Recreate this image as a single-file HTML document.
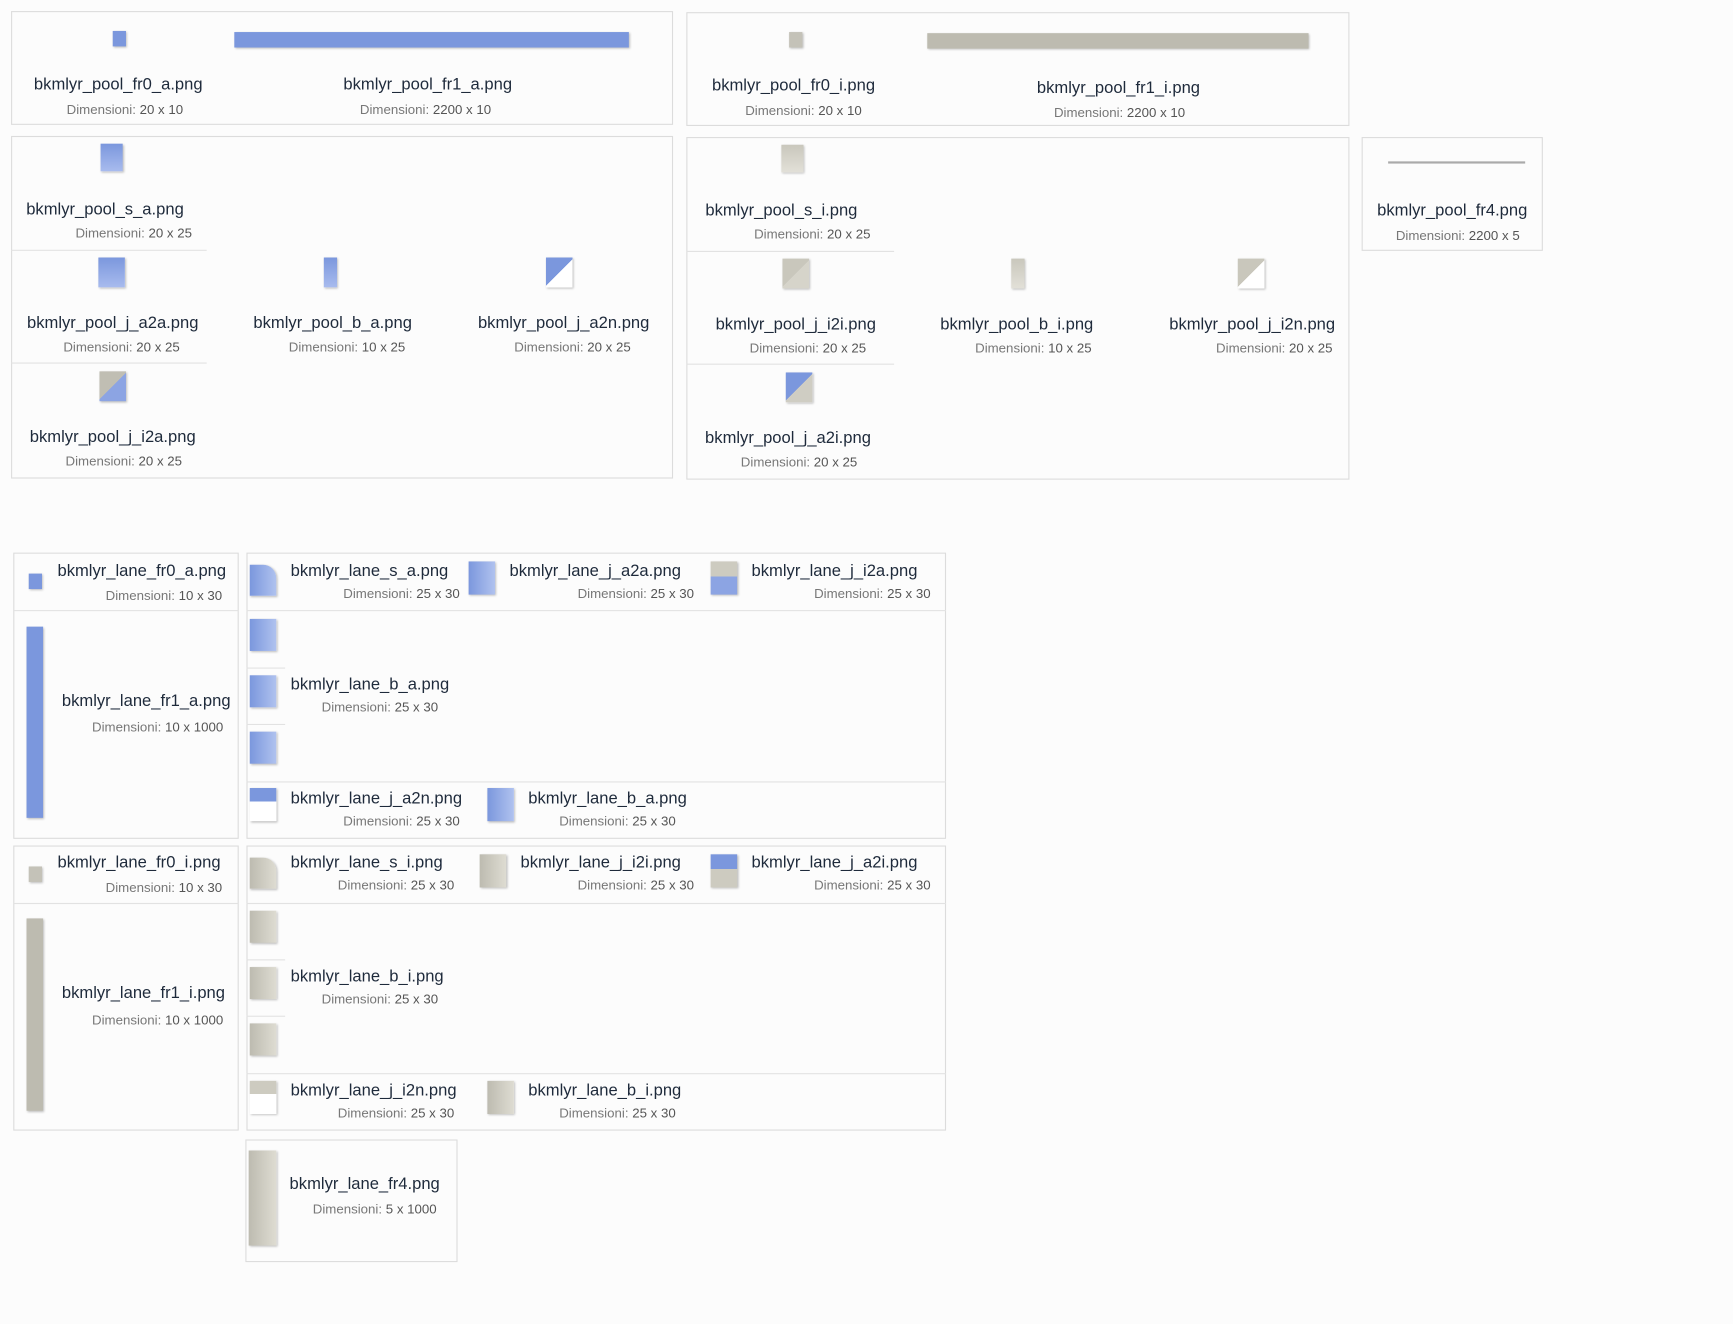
<!DOCTYPE html>
<html><head><meta charset="utf-8"><style>
html,body{margin:0;padding:0;background:#fcfcfc;}
body{width:1733px;height:1324px;overflow:hidden;position:relative;}
#w{position:absolute;left:0;top:0;width:1568px;height:1198px;transform:scale(1.1052);transform-origin:0 0;font-family:"Liberation Sans",sans-serif;}
.b{position:absolute;border:1px solid #dcdcdc;box-sizing:border-box;}
.h{position:absolute;height:1px;background:#e2e2e2;}
.n{position:absolute;font-size:15px;color:#1e2a3b;white-space:nowrap;line-height:18px;}
.d{position:absolute;font-size:12px;color:#555;white-space:nowrap;line-height:14px;}
.d span{color:#777;}
.c{transform:translateX(-50%);}
.r{transform:translateX(-100%);}
.i{position:absolute;box-shadow:1px 1px 2px rgba(0,0,0,.25);}
.bl{background:linear-gradient(90deg,#7b97dd,#b0c2ef);}
.bv{background:linear-gradient(180deg,#7b97dd,#a8bbee);}
.gr{background:linear-gradient(90deg,#bdbbb0,#dedcd2);}
.gv{background:linear-gradient(180deg,#c9c7bc,#e2e0d8);}
</style></head><body><div id="w">

<!-- Box A -->
<div class="b" style="left:10px;top:10px;width:599px;height:103px"></div>
<div class="i" style="left:102px;top:28px;width:12px;height:14px;background:#7b97dd"></div>
<div class="i" style="left:212px;top:29px;width:357px;height:14px;background:#7b97dd"></div>
<div class="n c" style="left:107px;top:68px">bkmlyr_pool_fr0_a.png</div>
<div class="d c" style="left:113px;top:92px"><span>Dimensioni:</span> 20 x 10</div>
<div class="n c" style="left:387px;top:68px">bkmlyr_pool_fr1_a.png</div>
<div class="d c" style="left:385px;top:92px"><span>Dimensioni:</span> 2200 x 10</div>

<!-- Box B -->
<div class="b" style="left:621px;top:11px;width:600px;height:103px"></div>
<div class="i" style="left:714px;top:29px;width:12px;height:14px;background:#c4c2b8"></div>
<div class="i" style="left:839px;top:30px;width:345px;height:14px;background:#bdbbb0"></div>
<div class="n c" style="left:718px;top:69px">bkmlyr_pool_fr0_i.png</div>
<div class="d c" style="left:727px;top:93px"><span>Dimensioni:</span> 20 x 10</div>
<div class="n c" style="left:1012px;top:71px">bkmlyr_pool_fr1_i.png</div>
<div class="d c" style="left:1013px;top:95px"><span>Dimensioni:</span> 2200 x 10</div>

<!-- Box C -->
<div class="b" style="left:10px;top:123px;width:599px;height:310px"></div>
<div class="h" style="left:10px;top:226px;width:177px"></div>
<div class="h" style="left:10px;top:328px;width:177px"></div>
<div class="i bv" style="left:91px;top:130px;width:20px;height:25px"></div>
<div class="n c" style="left:95px;top:181px">bkmlyr_pool_s_a.png</div>
<div class="d c" style="left:121px;top:204px"><span>Dimensioni:</span> 20 x 25</div>
<div class="i bv" style="left:89px;top:233px;width:24px;height:27px"></div>
<div class="n c" style="left:102px;top:284px">bkmlyr_pool_j_a2a.png</div>
<div class="d c" style="left:110px;top:307px"><span>Dimensioni:</span> 20 x 25</div>
<div class="i bv" style="left:293px;top:233px;width:12px;height:27px"></div>
<div class="n c" style="left:301px;top:284px">bkmlyr_pool_b_a.png</div>
<div class="d c" style="left:314px;top:307px"><span>Dimensioni:</span> 10 x 25</div>
<div class="i" style="left:494px;top:233px;width:24px;height:27px;background:linear-gradient(135deg,#7b97dd 50%,#fff 50%)"></div>
<div class="n c" style="left:510px;top:284px">bkmlyr_pool_j_a2n.png</div>
<div class="d c" style="left:518px;top:307px"><span>Dimensioni:</span> 20 x 25</div>
<div class="i" style="left:90px;top:336px;width:24px;height:27px;background:linear-gradient(135deg,#c0beb3 50%,#8ca4e3 50%)"></div>
<div class="n c" style="left:102px;top:387px">bkmlyr_pool_j_i2a.png</div>
<div class="d c" style="left:112px;top:410px"><span>Dimensioni:</span> 20 x 25</div>

<!-- Box D -->
<div class="b" style="left:621px;top:124px;width:600px;height:310px"></div>
<div class="h" style="left:621px;top:227px;width:188px"></div>
<div class="h" style="left:621px;top:329px;width:188px"></div>
<div class="i gv" style="left:707px;top:131px;width:20px;height:25px"></div>
<div class="n c" style="left:707px;top:182px">bkmlyr_pool_s_i.png</div>
<div class="d c" style="left:735px;top:205px"><span>Dimensioni:</span> 20 x 25</div>
<div class="i" style="left:708px;top:234px;width:24px;height:27px;background:linear-gradient(135deg,#c9c7bc 50%,#d6d4ca 50%)"></div>
<div class="n c" style="left:720px;top:285px">bkmlyr_pool_j_i2i.png</div>
<div class="d c" style="left:731px;top:308px"><span>Dimensioni:</span> 20 x 25</div>
<div class="i gv" style="left:915px;top:234px;width:12px;height:27px"></div>
<div class="n c" style="left:920px;top:285px">bkmlyr_pool_b_i.png</div>
<div class="d c" style="left:935px;top:308px"><span>Dimensioni:</span> 10 x 25</div>
<div class="i" style="left:1120px;top:234px;width:24px;height:27px;background:linear-gradient(135deg,#c9c7bc 50%,#fff 50%)"></div>
<div class="n c" style="left:1133px;top:285px">bkmlyr_pool_j_i2n.png</div>
<div class="d c" style="left:1153px;top:308px"><span>Dimensioni:</span> 20 x 25</div>
<div class="i" style="left:711px;top:337px;width:24px;height:27px;background:linear-gradient(135deg,#7b97dd 50%,#cfcdc3 50%)"></div>
<div class="n c" style="left:713px;top:388px">bkmlyr_pool_j_a2i.png</div>
<div class="d c" style="left:723px;top:411px"><span>Dimensioni:</span> 20 x 25</div>

<!-- Box E -->
<div class="b" style="left:1232px;top:124px;width:164px;height:103px"></div>
<div style="position:absolute;left:1256px;top:146px;width:124px;height:2px;background:#aaa"></div>
<div class="n c" style="left:1314px;top:182px">bkmlyr_pool_fr4.png</div>
<div class="d c" style="left:1319px;top:206px"><span>Dimensioni:</span> 2200 x 5</div>

<!-- Box F -->
<div class="b" style="left:12px;top:500px;width:204px;height:259px"></div>
<div class="h" style="left:12px;top:552px;width:204px"></div>
<div class="i" style="left:26px;top:519px;width:12px;height:14px;background:#7b97dd"></div>
<div class="n" style="left:52px;top:508px">bkmlyr_lane_fr0_a.png</div>
<div class="d r" style="left:201px;top:532px"><span>Dimensioni:</span> 10 x 30</div>
<div class="i" style="left:24px;top:567px;width:15px;height:173px;background:#7b97dd"></div>
<div class="n" style="left:56px;top:626px">bkmlyr_lane_fr1_a.png</div>
<div class="d r" style="left:202px;top:651px"><span>Dimensioni:</span> 10 x 1000</div>

<!-- Box G -->
<div class="b" style="left:223px;top:500px;width:633px;height:259px"></div>
<div class="h" style="left:223px;top:552px;width:633px"></div>
<div class="h" style="left:223px;top:707px;width:633px"></div>
<div class="h" style="left:223px;top:604px;width:35px"></div>
<div class="h" style="left:223px;top:655px;width:35px"></div>
<div class="i bl" style="left:226px;top:511px;width:24px;height:28px;border-top-right-radius:12px"></div>
<div class="n" style="left:263px;top:508px">bkmlyr_lane_s_a.png</div>
<div class="d r" style="left:416px;top:530px"><span>Dimensioni:</span> 25 x 30</div>
<div class="i bl" style="left:424px;top:508px;width:24px;height:30px"></div>
<div class="n" style="left:461px;top:508px">bkmlyr_lane_j_a2a.png</div>
<div class="d r" style="left:628px;top:530px"><span>Dimensioni:</span> 25 x 30</div>
<div class="i" style="left:643px;top:508px;width:24px;height:30px;background:linear-gradient(180deg,#cdcbc0 45%,#8ca4e3 45%)"></div>
<div class="n" style="left:680px;top:508px">bkmlyr_lane_j_i2a.png</div>
<div class="d r" style="left:842px;top:530px"><span>Dimensioni:</span> 25 x 30</div>
<div class="i bl" style="left:226px;top:560px;width:24px;height:29px"></div>
<div class="i bl" style="left:226px;top:611px;width:24px;height:29px"></div>
<div class="i bl" style="left:226px;top:662px;width:24px;height:29px"></div>
<div class="n" style="left:263px;top:611px">bkmlyr_lane_b_a.png</div>
<div class="d" style="left:291px;top:633px"><span>Dimensioni:</span> 25 x 30</div>
<div class="i" style="left:226px;top:713px;width:24px;height:30px;background:linear-gradient(180deg,#7b97dd 40%,#fff 40%)"></div>
<div class="n" style="left:263px;top:714px">bkmlyr_lane_j_a2n.png</div>
<div class="d r" style="left:416px;top:736px"><span>Dimensioni:</span> 25 x 30</div>
<div class="i bl" style="left:441px;top:713px;width:24px;height:30px"></div>
<div class="n" style="left:478px;top:714px">bkmlyr_lane_b_a.png</div>
<div class="d" style="left:506px;top:736px"><span>Dimensioni:</span> 25 x 30</div>

<!-- Box H -->
<div class="b" style="left:12px;top:765px;width:204px;height:258px"></div>
<div class="h" style="left:12px;top:817px;width:204px"></div>
<div class="i" style="left:26px;top:784px;width:12px;height:14px;background:#c4c2b8"></div>
<div class="n" style="left:52px;top:772px">bkmlyr_lane_fr0_i.png</div>
<div class="d r" style="left:201px;top:796px"><span>Dimensioni:</span> 10 x 30</div>
<div class="i" style="left:24px;top:831px;width:15px;height:174px;background:#bdbbb0"></div>
<div class="n" style="left:56px;top:890px">bkmlyr_lane_fr1_i.png</div>
<div class="d r" style="left:202px;top:916px"><span>Dimensioni:</span> 10 x 1000</div>

<!-- Box I -->
<div class="b" style="left:223px;top:765px;width:633px;height:258px"></div>
<div class="h" style="left:223px;top:817px;width:633px"></div>
<div class="h" style="left:223px;top:971px;width:633px"></div>
<div class="h" style="left:223px;top:868px;width:35px"></div>
<div class="h" style="left:223px;top:919px;width:35px"></div>
<div class="i gr" style="left:226px;top:776px;width:24px;height:28px;border-top-right-radius:12px"></div>
<div class="n" style="left:263px;top:772px">bkmlyr_lane_s_i.png</div>
<div class="d r" style="left:411px;top:794px"><span>Dimensioni:</span> 25 x 30</div>
<div class="i gr" style="left:434px;top:773px;width:24px;height:30px"></div>
<div class="n" style="left:471px;top:772px">bkmlyr_lane_j_i2i.png</div>
<div class="d r" style="left:628px;top:794px"><span>Dimensioni:</span> 25 x 30</div>
<div class="i" style="left:643px;top:773px;width:24px;height:30px;background:linear-gradient(180deg,#7b97dd 45%,#cdcbc0 45%)"></div>
<div class="n" style="left:680px;top:772px">bkmlyr_lane_j_a2i.png</div>
<div class="d r" style="left:842px;top:794px"><span>Dimensioni:</span> 25 x 30</div>
<div class="i gr" style="left:226px;top:824px;width:24px;height:29px"></div>
<div class="i gr" style="left:226px;top:875px;width:24px;height:29px"></div>
<div class="i gr" style="left:226px;top:926px;width:24px;height:29px"></div>
<div class="n" style="left:263px;top:875px">bkmlyr_lane_b_i.png</div>
<div class="d" style="left:291px;top:897px"><span>Dimensioni:</span> 25 x 30</div>
<div class="i" style="left:226px;top:978px;width:24px;height:30px;background:linear-gradient(180deg,#cdcbc0 40%,#fff 40%)"></div>
<div class="n" style="left:263px;top:978px">bkmlyr_lane_j_i2n.png</div>
<div class="d r" style="left:411px;top:1000px"><span>Dimensioni:</span> 25 x 30</div>
<div class="i gr" style="left:441px;top:978px;width:24px;height:30px"></div>
<div class="n" style="left:478px;top:978px">bkmlyr_lane_b_i.png</div>
<div class="d" style="left:506px;top:1000px"><span>Dimensioni:</span> 25 x 30</div>

<!-- Box J -->
<div class="b" style="left:222px;top:1031px;width:192px;height:111px"></div>
<div class="i gr" style="left:225px;top:1041px;width:25px;height:86px"></div>
<div class="n" style="left:262px;top:1063px">bkmlyr_lane_fr4.png</div>
<div class="d" style="left:283px;top:1087px"><span>Dimensioni:</span> 5 x 1000</div>

</div></body></html>
